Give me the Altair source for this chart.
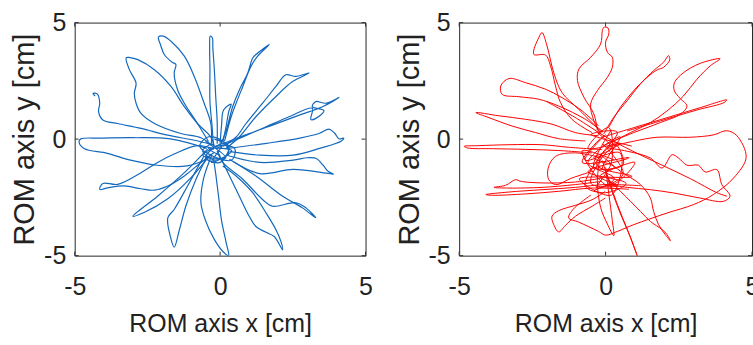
import altair as alt
import pandas as pd

TICKS = [-5, 0, 5]
X_TITLE = "ROM axis x [cm]"
Y_TITLE = "ROM axis y [cm]"

# ---- blue trajectories (left panel) ----
BLUE_A = [(-0.30,-0.2),(-0.32,0.67),(-0.55,1.54),(-0.89,2.69),(-1.23,3.56),(-1.69,4.20),(-1.95,4.42),(-2.12,4.38),(-2.05,4.05),(-1.92,3.63),(-1.65,3.30),(-1.52,3.20),(-1.58,2.84),(-1.46,2.11),(-1.23,1.54),(-0.78,0.67),(-0.40,-0.1)]
BLUE_B = [(-0.30,-0.25),(-0.66,0.06),(-1.35,0.24),(-2.26,0.67),(-2.72,1.10),(-2.89,1.54),(-2.95,1.97),(-2.89,2.40),(-3.12,2.98),(-3.23,3.49),(-3.10,3.50),(-2.83,3.41),(-2.26,2.98),(-1.69,2.26),(-1.23,1.39),(-0.78,0.67),(-0.32,0.09),(-0.2,-0.3)]
BLUE_C = [(-0.23,-0.3),(-0.28,0.6),(-0.35,1.6),(-0.35,3.0),(-0.36,4.0),(-0.34,4.42),(-0.27,4.35),(-0.25,3.9),(-0.2,3.0),(-0.15,1.8),(-0.1,0.7),(-0.1,-0.2)]
BLUE_D = [(0.0,-0.3),(0.21,0.38),(0.43,1.39),(0.66,2.11),(0.95,2.84),(1.12,3.48),(1.23,3.63),(1.69,4.06),(1.29,3.56),(1.06,3.12),(0.78,2.26),(0.55,1.54),(0.38,0.96),(0.15,-0.1)]
BLUE_E = [(0.1,-0.3),(0.55,0.09),(0.89,0.67),(1.46,1.54),(1.92,2.26),(2.26,2.76),(2.60,2.69),(3.06,2.84),(2.49,2.47),(1.92,1.83),(1.23,0.96),(0.66,0.09),(0.2,-0.4)]
BLUE_F = [(-0.14,-0.4),(0.78,0.09),(1.58,0.53),(2.37,0.96),(3.17,1.32),(3.12,0.84),(3.29,0.89),(3.57,1.22),(3.17,1.39),(3.29,1.61),(3.63,1.54),(4.09,1.79),(3.52,1.39),(2.72,1.03),(1.80,0.60),(1.0,0.24),(0.09,-0.2)]
BLUE_G = [(0.23,-0.40),(1.60,-0.18),(2.74,0.04),(3.42,0.25),(3.74,0.43),(3.94,0.25),(4.09,0.01),(4.25,0.04),(4.17,-0.08),(3.42,-0.40),(2.51,-0.69),(1.37,-0.69),(0.34,-0.54)]
BLUE_H = [(0.23,-0.69),(1.37,-1.0),(2.51,-0.9),(3.0,-0.80),(3.31,-0.83),(3.54,-1.12),(3.71,-1.38),(3.90,-1.50),(3.65,-1.46),(2.51,-1.3),(1.37,-1.48),(0.46,-0.97)]
BLUE_I = [(-0.1,-0.5),(0.09,-1.0),(0.78,-1.72),(1.46,-2.59),(1.80,-2.88),(2.60,-2.73),(2.95,-2.95),(3.29,-3.38),(2.83,-2.95),(2.15,-2.45),(1.23,-1.58),(0.32,-0.86)]
BLUE_R = [(-0.1,-0.5),(0.21,-1.29),(0.66,-2.45),(1.0,-3.31),(1.23,-3.75),(1.58,-4.0),(1.86,-4.18),(2.15,-4.75),(2.09,-4.39),(1.92,-3.89),(1.58,-3.17),(1.12,-2.30),(0.55,-1.58),(0.09,-1.15)]
BLUE_J = [(-0.46,-0.40),(-1.71,0.01),(-2.97,0.06),(-4.11,0.04),(-4.79,0.01),(-4.85,-0.11),(-4.68,-0.40),(-3.88,-0.61),(-3.08,-0.90),(-2.17,-1.12),(-1.14,-1.15),(-0.40,-0.83)]
BLUE_K = [(-0.21,-0.43),(-0.78,-0.28),(-1.58,-0.64),(-2.15,-1.0),(-2.72,-1.44),(-3.52,-1.94),(-4.03,-1.90),(-4.14,-2.16),(-3.86,-2.09),(-3.29,-2.01),(-2.72,-2.13),(-2.26,-2.19),(-1.80,-2.01),(-1.23,-1.58),(-0.66,-1.0),(-0.21,-0.57)]
BLUE_L = [(-0.43,-0.43),(-1.23,-1.44),(-2.15,-2.45),(-3.0,-3.31),(-2.60,-3.14),(-1.80,-2.56),(-1.0,-1.65),(-0.32,-0.64)]
BLUE_M = [(-0.55,-0.71),(-1.12,-2.01),(-1.58,-3.02),(-1.80,-3.38),(-1.71,-4.18),(-1.58,-4.64),(-1.40,-3.89),(-1.18,-2.88),(-0.83,-1.72),(-0.43,-0.71)]
BLUE_N = [(-0.29,-0.69),(-0.57,-1.70),(-0.66,-2.73),(-0.5,-3.5),(-0.2,-4.3),(0.08,-4.8),(0.29,-5.0),(0.2,-4.4),(0.05,-3.5),(-0.05,-2.5),(-0.15,-1.5),(-0.23,-0.83)]
BLUE_P = [(-0.21,-0.25),(-0.89,-0.05),(-1.80,0.17),(-2.72,0.46),(-3.52,0.67),(-4.03,0.82),(-4.18,1.18),(-4.14,1.54),(-4.22,1.93),(-4.37,1.97),(-4.30,1.85)]
BLUE_Q = [(0.0,-0.2),(0.05,0.6),(0.12,1.25),(0.38,1.5),(0.3,1.2),(0.2,0.5),(0.1,-0.1)]
BLUE_S = [(-0.3,-0.2),(-0.6,-0.5),(-0.2,-0.9),(0.3,-0.6),(0.1,-0.1),(-0.4,0.1),(-0.7,-0.3),(-0.3,-0.7),(0.4,-0.9),(0.5,-0.4),(-0.1,-0.3),(-0.5,-0.8),(0.0,-1.0),(0.3,-0.3),(-0.2,0.0)]
BLUE_T = [(-0.5,-0.1),(0.2,-0.8),(-0.6,-0.7),(0.1,-0.2),(-0.3,-1.0),(0.4,-0.5),(-0.4,-0.4),(0.0,-0.7)]

# ---- red trajectories (right panel) ----
RED_1 = [(-0.12,0.28),(-0.92,1.28),(-1.49,2.0),(-1.77,2.85),(-2.0,4.0),(-2.17,4.57),(-2.28,4.36),(-2.45,3.64),(-2.05,3.61),(-1.88,3.14),(-1.71,2.28),(-1.54,1.57),(-1.15,0.85),(-0.46,0.28)]
RED_2 = [(-0.12,0.35),(-0.69,0.85),(-1.60,1.42),(-2.28,1.71),(-2.96,1.82),(-3.53,1.92),(-3.58,2.28),(-3.30,2.60),(-2.73,2.42),(-2.05,2.14),(-1.49,1.78),(-0.80,1.21),(-0.24,0.57)]
RED_3 = [(-0.24,0.14),(-1.03,0.28),(-1.83,0.64),(-2.73,0.85),(-3.64,1.0),(-4.43,1.14),(-3.98,0.92),(-3.19,0.56),(-2.39,0.28),(-1.60,0.02),(-0.69,-0.08)]
RED_4 = [(-0.12,-0.45),(-1.26,-0.35),(-2.17,-0.24),(-3.30,-0.24),(-4.32,-0.28),(-4.83,-0.31),(-4.71,-0.38),(-3.87,-0.41),(-2.73,-0.44),(-1.60,-0.49),(-0.46,-0.59)]
RED_5A = [(1.2,-2.0),(-0.01,-1.95),(-1.03,-2.07),(-2.17,-2.17),(-3.30,-2.27),(-4.09,-2.38),(-3.87,-2.41),(-2.73,-2.35),(-1.60,-2.24),(-0.46,-2.10),(0.8,-2.15)]
RED_5B = [(-0.12,-1.81),(-1.03,-1.95),(-2.17,-2.07),(-3.30,-2.10),(-3.81,-2.07),(-3.41,-1.98),(-3.07,-1.74),(-2.90,-1.81),(-2.17,-1.88),(-1.03,-1.84),(-0.12,-1.67)]
RED_6 = [(-0.01,-2.24),(-0.46,-2.60),(-1.03,-2.84),(-1.60,-3.07),(-1.83,-3.31),(-1.77,-3.67),(-1.60,-3.98),(-1.37,-3.70),(-1.03,-3.31),(-0.46,-2.88),(-0.01,-2.53)]
RED_7 = [(0.06,-0.35),(0.96,-0.09),(1.76,0.08),(2.89,0.08),(3.68,0.18),(4.14,0.36),(4.48,0.15),(4.80,-0.78),(4.37,-1.67),(3.68,-2.38),(3.0,-2.81),(2.10,-3.17),(0.96,-3.67),(0.40,-3.96),(0.0,-4.12),(-0.24,-3.96),(-0.92,-3.56),(-1.26,-3.38),(-1.1,-3.0),(-0.5,-2.4)]
RED_8 = [(0.06,-0.38),(0.74,-0.52),(1.53,-0.81),(1.93,-1.24),(2.27,-0.67),(2.49,-0.81),(2.78,-1.12),(3.17,-1.12),(3.40,-1.41),(3.80,-1.31),(3.97,-1.95),(4.25,-2.45),(4.02,-2.67),(3.23,-2.53),(2.32,-2.31),(1.53,-2.17),(0.74,-2.07),(0.06,-1.95)]
RED_9 = [(-0.17,-0.67),(0.51,-1.38),(1.19,-1.95),(1.53,-2.53),(1.64,-3.10),(1.81,-3.67),(2.04,-4.10),(2.21,-4.36),(2.10,-4.10),(1.93,-3.88),(1.53,-3.53),(1.19,-3.10),(0.51,-2.24),(-0.06,-1.53)]
RED_10 = [(-0.11,-0.92),(0.17,-2.07),(0.51,-3.21),(0.85,-4.21),(1.08,-5.0),(1.02,-4.8),(0.75,-3.9),(0.4,-2.8),(0.05,-1.5)]
RED_11 = [(-0.28,0.37),(-0.40,1.08),(-0.74,1.80),(-0.96,2.51),(-0.91,3.01),(-0.51,3.51),(-0.17,4.08),(-0.11,4.66),(-0.06,4.80),(0.08,4.77),(0.11,4.51),(0.0,4.16),(0.06,3.73),(0.23,3.51),(0.23,3.08),(0.06,2.65),(-0.28,2.08),(-0.51,1.51),(-0.40,0.79),(-0.17,0.22)]
RED_12 = [(-0.06,0.22),(0.28,0.94),(0.74,1.65),(1.19,2.37),(1.64,2.94),(1.98,3.30),(2.15,3.58),(2.19,3.40),(1.98,3.08),(1.76,2.97),(1.42,2.65),(0.96,2.08),(0.51,1.37),(0.11,0.51)]
RED_13 = [(-0.1,-0.3),(0.40,-0.01),(0.96,0.28),(1.87,0.71),(2.55,1.07),(2.78,1.42),(2.55,1.74),(2.35,2.07),(2.35,2.42),(2.66,2.85),(3.23,3.25),(3.91,3.45),(3.57,3.14),(3.12,2.57),(2.66,1.85),(2.10,1.21),(1.53,0.71),(0.85,0.28),(0.17,-0.15)]
RED_14 = [(-0.17,0.06),(0.96,0.49),(2.10,0.92),(3.23,1.35),(4.14,1.68),(4.05,1.57),(3.12,1.25),(1.87,0.78),(0.74,0.35)]
RED_16 = [(-0.12,-0.81),(-1.03,-0.59),(-1.71,-0.74),(-1.96,-1.24),(-1.94,-1.74),(-1.71,-1.95),(-1.15,-1.67),(-0.46,-1.38)]
RED_18 = [(-0.17,-0.64),(-0.28,-1.78),(-0.17,-2.93),(0.06,-3.64),(0.28,-4.14),(0.23,-3.50),(0.11,-2.35),(0.0,-1.21)]
RED_20 = [(-2.0,1.6),(-1.0,0.9),(0.0,0.1),(0.9,-0.5),(1.9,-1.1),(2.9,-1.7),(3.8,-2.3),(4.15,-2.45)]
RED_S1 = [(-0.3,0.3),(0.2,-0.4),(-0.4,-0.8),(0.3,-1.2),(-0.2,-1.6),(0.4,-2.0),(-0.5,-1.9),(0.0,-0.6),(0.5,-0.2),(-0.6,-0.4),(0.1,0.5),(0.2,-1.0),(-0.3,-2.1),(0.6,-1.5),(-0.1,-0.2)]
RED_S2 = [(-0.2,0.0),(-0.8,-1.0),(0.8,-0.8),(-0.6,-1.4),(0.7,-1.9),(0.0,-2.3),(-0.7,-2.0),(0.3,-0.2),(0.6,-1.1),(-0.4,-1.2),(0.2,0.4)]
RED_S3 = [(0.9,-0.3),(-0.5,0.2),(0.4,0.3),(-0.3,-1.1),(0.9,-1.6),(-0.9,-1.7),(0.2,-2.4),(0.5,-0.6),(-0.7,-0.9),(0.0,0.2)]
RED_S4 = [(-0.4,-2.2),(0.3,-1.7),(-0.6,-1.0),(0.5,0.1),(-0.1,-1.3),(1.0,-1.0),(0.1,-2.0),(-0.8,-0.5),(0.3,-0.9)]

BLUE = [BLUE_A, BLUE_B, BLUE_C, BLUE_D, BLUE_E, BLUE_F, BLUE_G, BLUE_H, BLUE_I,
        BLUE_R, BLUE_J, BLUE_K, BLUE_L, BLUE_M, BLUE_N, BLUE_P, BLUE_Q, BLUE_S, BLUE_T]
RED = [RED_1, RED_2, RED_3, RED_4, RED_5A, RED_5B, RED_6, RED_7, RED_8, RED_9, RED_10,
       RED_11, RED_12, RED_13, RED_14, RED_16, RED_18, RED_20, RED_S1, RED_S2, RED_S3, RED_S4]

FONT = "Liberation Sans"


def to_frame(strokes):
    rows = []
    for sid, pts in enumerate(strokes):
        for i, (x, y) in enumerate(pts):
            rows.append({"x": x, "y": y, "stroke": sid, "i": i})
    return pd.DataFrame(rows)


XS = alt.Scale(domain=[-5, 5], nice=False, zero=False)
YS = alt.Scale(domain=[-5, 5], nice=False, zero=False)
XAX = alt.Axis(values=TICKS, title=X_TITLE, labelExpr="'' + datum.value", labelFlush=False,
               titleFontSize=25, labelFontSize=25, labelPadding=19, titlePadding=12)
YAX = alt.Axis(values=TICKS, title=Y_TITLE, labelExpr="'' + datum.value", labelFlush=False,
               titleFontSize=29, labelFontSize=25, labelPadding=9, titlePadding=4)


def panel(strokes, color, sw, w, h):
    lines = alt.Chart(to_frame(strokes)).mark_line(
        color=color, strokeWidth=sw, interpolate="catmull-rom", clip=True
    ).encode(
        x=alt.X("x:Q", scale=XS, axis=XAX, title=X_TITLE),
        y=alt.Y("y:Q", scale=YS, axis=YAX, title=Y_TITLE),
        detail="stroke:N",
        order="i:Q",
    )
    tdf = pd.DataFrame({"t": TICKS})
    base = alt.Chart(tdf).mark_rule(color="#333333", strokeWidth=1)
    tb = base.encode(x=alt.X("t:Q", scale=XS, axis=XAX, title=X_TITLE), y=alt.value(h), y2=alt.value(h - 4))
    tt = base.encode(x=alt.X("t:Q", scale=XS, axis=XAX, title=X_TITLE), y=alt.value(0), y2=alt.value(4))
    tl = base.encode(y=alt.Y("t:Q", scale=YS, axis=YAX, title=Y_TITLE), x=alt.value(0), x2=alt.value(4))
    tr = base.encode(y=alt.Y("t:Q", scale=YS, axis=YAX, title=Y_TITLE), x=alt.value(w), x2=alt.value(w - 4))
    return alt.layer(lines, tb, tt, tl, tr).properties(width=w, height=h)


left = panel(BLUE, "#1469bd", 1.2, 292, 234)
right = panel(RED, "#ff0000", 1.0, 294, 234)

chart = alt.hconcat(left, right, spacing=21).properties(
    padding={"left": 10, "top": 9, "right": -7, "bottom": 0},
    background="white",
).configure_view(
    stroke="#262626", strokeWidth=1
).configure_axis(
    grid=False, domain=False, ticks=False,
    labelFont=FONT, titleFont=FONT, labelColor="#222222", titleColor="#222222",
    titleFontWeight="normal",
)

chart.save("out.html", embed_options={"renderer": "svg", "actions": False})
